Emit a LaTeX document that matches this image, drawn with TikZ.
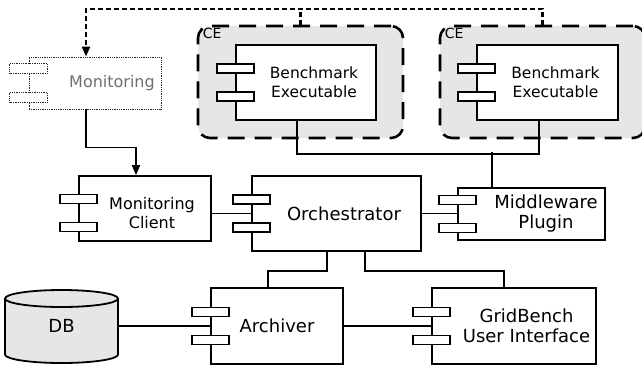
\documentclass[tikz,border=0pt]{standalone}
\usepackage{fontspec}
\setmainfont{DejaVu Sans}
\usetikzlibrary{arrows.meta}
\definecolor{cegray}{HTML}{E6E6E6}
\definecolor{montext}{HTML}{707070}
\tikzset{
  comp/.style={draw, line width=1.8pt, fill=white, inner sep=0pt},
  port/.style={draw, line width=1.8pt, fill=white},
  monbox/.style={draw=black!85, line width=0.8pt, densely dotted, fill=white, inner sep=0pt},
  monport/.style={draw=black!85, line width=0.8pt, densely dotted, fill=white},
  ce/.style={draw, line width=2.6pt, dash pattern=on 17pt off 10pt, rounded corners=12pt, fill=cegray, inner sep=0pt},
  celabel/.style={anchor=north west, inner sep=0pt, font=\fontsize{14}{16}\selectfont},
  wire/.style={line width=1.8pt},
  flow/.style={wire, -{Triangle[length=10pt,width=8pt]}},
  watch/.style={line width=2.3pt, dash pattern=on 5pt off 3pt},
  txt/.style={align=center, inner sep=0pt, font=\fontsize{18}{20}\selectfont},
  smalltxt/.style={txt, font=\fontsize{16}{19}\selectfont},
  benchtxt/.style={txt, font=\fontsize{15.5}{19}\selectfont},
}
\begin{document}
\begin{tikzpicture}[x=1pt,y=-1pt]
\useasboundingbox (0,0) rectangle (642,365);
% computing elements
\node[ce, minimum width=205pt, minimum height=112pt] (ce1) at (300.5,82) {};
\node[ce, minimum width=205pt, minimum height=112pt] (ce2) at (542.5,82) {};
\node[celabel] at ([shift={(6,3)}]ce1.north west) {CE};
\node[celabel] at ([shift={(6,3)}]ce2.north west) {CE};
% components
\node[comp, minimum width=140pt, minimum height=75pt] (be1) at (306,82.5) {};
\node[comp, minimum width=141pt, minimum height=75pt] (be2) at (547.5,82.5) {};
\node[monbox, minimum width=132pt, minimum height=52pt] (mon) at (95,83) {};
\node[comp, minimum width=132pt, minimum height=65pt] (mc) at (145,208.5) {};
\node[comp, minimum width=169pt, minimum height=75pt] (orch) at (336.5,213.5) {};
\node[comp, minimum width=147pt, minimum height=52pt] (mw) at (531.5,214) {};
\node[comp, minimum width=132pt, minimum height=76pt] (arch) at (277,326) {};
\node[comp, minimum width=164pt, minimum height=76pt] (gb) at (514,326) {};
% database
\filldraw[wire, fill=cegray] (5,298.5) -- (5,354.5)
  arc[start angle=180, end angle=0, x radius=56.5, y radius=8.5] -- (118,298.5)
  arc[start angle=0, end angle=-180, x radius=56.5, y radius=8.5] -- cycle;
\draw[wire] (5,298.5) arc[start angle=180, end angle=0, x radius=56.5, y radius=8.5];
\node[txt, minimum width=113pt, minimum height=73pt] (db) at (61.5,326) {DB};
% labels
\node[benchtxt] at ([xshift=8]be1.center) {Benchmark\\Executable};
\node[benchtxt] at ([xshift=8]be2.center) {Benchmark\\Executable};
\node[smalltxt, text=montext] at ([xshift=17]mon.center) {Monitoring};
\node[smalltxt] at ([shift={(7,5)}]mc.center) {Monitoring\\Client};
\node[txt] at ([xshift=7.5]orch.center) {Orchestrator};
\node[txt] at ([xshift=14.5]mw.center) {Middleware\\Plugin};
\node[txt] at (arch.center) {Archiver};
\node[txt] at ([xshift=12.5]gb.center) {GridBench\\User Interface};
% connectors
\draw[watch, -{Triangle[length=10pt,width=8pt]}] (ce2.north) -- ++(0,-16) -| ([xshift=-9]mon.north);
\draw[watch] (ce1.north) -- ++(0,-16);
\draw[flow] ([xshift=-9]mon.south) -- ++(0,38) -| ([xshift=-9]mc.north);
\draw[wire] ([xshift=-9]be1.south) -- ++(0,33) -| ([xshift=-8.5]be2.south);
\draw[wire] ([xshift=-39.5]mw.north) -- ++(0,-35);
\draw[wire] ([shift={(0,5)}]mc.east) -- (orch.west);
\draw[wire] (orch.east) -- (orch.east -| mw.west);
\draw[wire] ([xshift=-9.5]orch.south) -- ++(0,19) -| ([xshift=-9]arch.north);
\draw[wire] ([xshift=28.5]orch.south) -- ++(0,19) -| ([xshift=-10]gb.north);
\draw[wire] (db.east) -- (arch.west);
\draw[wire] (arch.east) -- (gb.west);
% ports
\foreach \n/\dy in {be1/0, be2/0, mc/4.5, orch/0, mw/0, arch/0, gb/0} {
  \draw[port] ([shift={(-18.5,-18.5+\dy)}]\n.west) rectangle ++(37,9);
  \draw[port] ([shift={(-18.5,9.5+\dy)}]\n.west) rectangle ++(37,9);
}
\foreach \dy in {-19.5, 9.5}
  \draw[monport] ([shift={(-19,\dy)}]mon.west) rectangle ++(38,9.5);
\end{tikzpicture}
\end{document}
